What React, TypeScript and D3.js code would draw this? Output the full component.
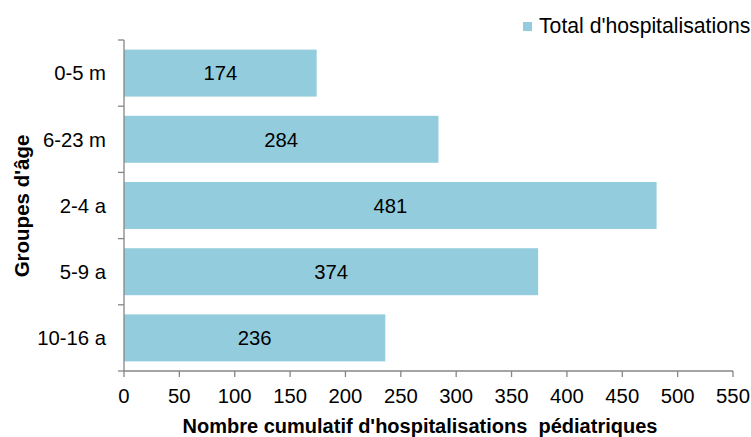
import React from "react";
import * as d3 from "d3";

const categories = ["0-5 m", "6-23 m", "2-4 a", "5-9 a", "10-16 a"];
const values = [174, 284, 481, 374, 236];
const xTicks = [0, 50, 100, 150, 200, 250, 300, 350, 400, 450, 500, 550];
const seriesName = "Total d'hospitalisations";
const xTitle = "Nombre cumulatif d'hospitalisations  pédiatriques";
const yTitle = "Groupes d'âge";

export default function App() {
  const W = 751, H = 437;
  const left = 124, right = 733, top = 40, bottom = 371;
  const x = d3.scaleLinear().domain([0, 550]).range([left, right]);
  const y = d3.scaleBand().domain(categories).range([top, bottom]).paddingInner(0.29).paddingOuter(0.145);
  const yb = d3.scaleBand().domain(categories).range([top, bottom]);
  const font = "Liberation Sans, Arial, sans-serif";
  const axisColor = "#868686";
  const barColor = "#93CDDD";
  const fs = 20.3;
  return (
    <svg width={W} height={H} style={{ position: "absolute", left: 0, top: 0 }} fontFamily={font}>
      {categories.map((c, i) => (
        <g key={c}>
          <rect x={x(0)} y={y(c)} width={x(values[i]) - x(0)} height={y.bandwidth()} fill={barColor} />
          <text x={(x(0) + x(values[i])) / 2} y={(y(c) as number) + y.bandwidth() / 2} dy="0.36em" textAnchor="middle" fontSize={fs} fill="#000">{values[i]}</text>
          <text x={106} y={(yb(c) as number) + yb.bandwidth() / 2} dy="0.36em" textAnchor="end" fontSize={fs} fill="#000">{c}</text>
        </g>
      ))}
      {/* y axis */}
      <line x1={left} x2={left} y1={top} y2={bottom} stroke={axisColor} strokeWidth={1.3} />
      {[...categories.map((c) => yb(c) as number), bottom].map((v, i) => (
        <line key={i} x1={left - 6} x2={left} y1={v} y2={v} stroke={axisColor} strokeWidth={1.3} />
      ))}
      {/* x axis */}
      <line x1={left} x2={right} y1={bottom} y2={bottom} stroke={axisColor} strokeWidth={1.3} />
      {xTicks.map((t) => (
        <g key={t}>
          <line x1={x(t)} x2={x(t)} y1={bottom} y2={bottom + 6} stroke={axisColor} strokeWidth={1.3} />
          <text x={x(t)} y={403} textAnchor="middle" fontSize={fs} fill="#000">{t}</text>
        </g>
      ))}
      <text x={420} y={433} textAnchor="middle" fontSize={20} fontWeight="bold" fill="#000" style={{ whiteSpace: "pre" }}>{xTitle}</text>
      <text transform={`translate(29,206) rotate(-90)`} textAnchor="middle" fontSize={20.5} fontWeight="bold" fill="#000">{yTitle}</text>
      {/* legend */}
      <rect x={523} y={22} width={9} height={9} fill={barColor} />
      <text x={539} y={33} fontSize={21.2} fill="#000">{seriesName}</text>
    </svg>
  );
}
